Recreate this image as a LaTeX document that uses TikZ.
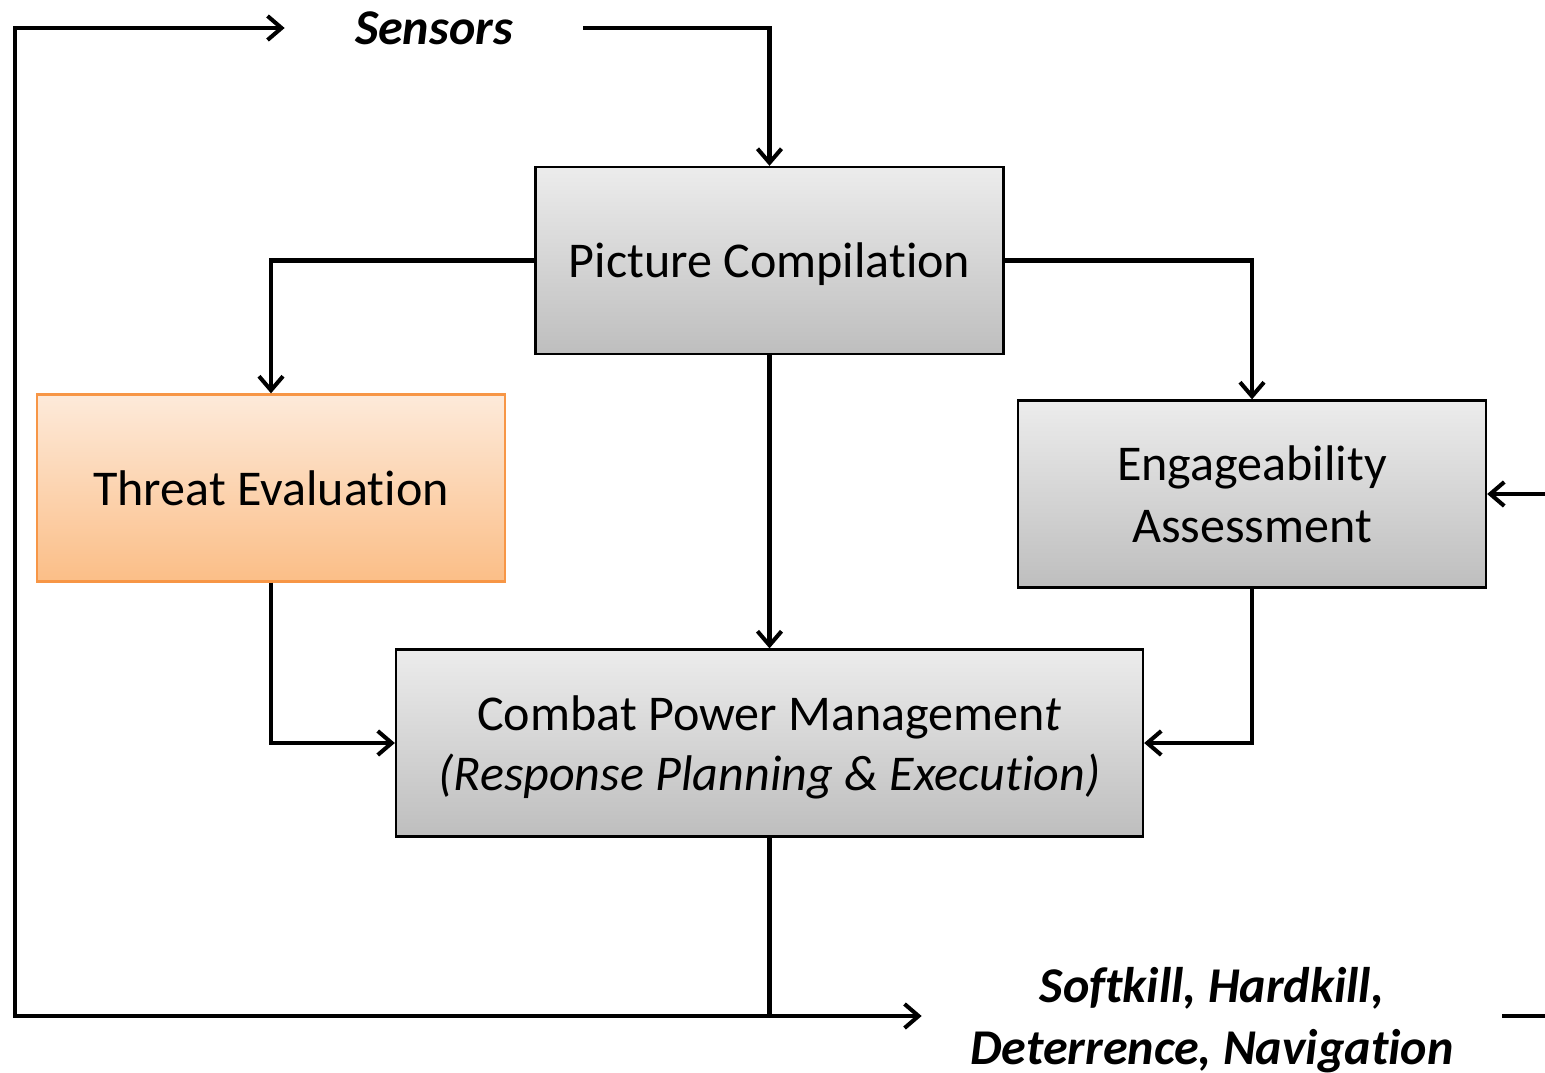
\documentclass[tikz,border=0pt]{standalone}
\usepackage{fontspec}
\setmainfont{Carlito}[Ligatures=NoCommon]
\usepackage{tikz}
\usetikzlibrary{arrows.meta,positioning}

\definecolor{boxtop}{RGB}{236,236,236}
\definecolor{boxbot}{RGB}{190,190,190}
\definecolor{orangetop}{RGB}{253,234,218}
\definecolor{orangebot}{RGB}{251,190,135}
\definecolor{orangeedge}{RGB}{247,150,70}

\begin{document}
\begin{tikzpicture}[
    % Define styles
    block/.style={rectangle, draw=black, line width=1.3pt, top color=boxtop, bottom color=boxbot, minimum width=9.36cm, minimum height=3.74cm, align=center, text depth=0pt, font=\fontsize{28.5}{35.5}\selectfont},
    threat/.style={block, draw=orangeedge, top color=orangetop, bottom color=orangebot},
    iolabel/.style={inner sep=0pt, align=center, text depth=0pt, font=\fontsize{28.5}{35.5}\selectfont\bfseries\itshape},
    arrow/.style={line width=2.3pt, -{Straight Barb[length=2.8mm, width=4.8mm, line width=2.3pt]}},
    line/.style={line width=2.3pt}
]
\useasboundingbox (0,0) rectangle (30.9,21.44);

% Main blocks
\node[block] (picture) at (15.39,16.23) {Picture Compilation};
\node[threat] (threat) at (5.42,11.68) {Threat Evaluation};
\node[block] (engage) at (25.04,11.56) {Engageability\\Assessment};
\node[block, minimum width=14.94cm, font=\fontsize{28.5}{34}\selectfont] (combat) at (15.39,6.58) {Combat Power Managemen\textit{t}\\\textit{(Response Planning \& Execution)}};

% Inputs and outputs
\node[iolabel, minimum width=5.96cm] (sensors) at (8.68,20.88) {Sensors};
\node[iolabel, minimum width=11.6cm] (effects) at (24.24,1.12) {Softkill, Hardkill,\\Deterrence, Navigation};

% Loop corners and free ends
\coordinate (looptl) at (0.3,20.88);
\coordinate (loopbl) at (0.3,1.12);
\coordinate (effend) at (30.9,1.12);
\coordinate (engin) at (30.9,11.56);

% Sensors into picture compilation
\draw[arrow] (sensors.east) -| (picture.north);

% Picture compilation to the three branches
\draw[arrow] (picture.west) -| (threat.north);
\draw[arrow] (picture.east) -| (engage.north);
\draw[arrow] (picture.south) -- (combat.north);

% Branches into combat power management
\draw[arrow] (threat.south) |- (combat.west);
\draw[arrow] (engage.south) |- (combat.east);
\draw[arrow] (engin) -- (engage.east);

% Output and feedback loop
\draw[arrow] (combat.south) |- (effects.west);
\draw[line] (effects.east) -- (effend);
\draw[arrow] (combat.south |- effects.west) -- (loopbl) -- (looptl) -- (sensors.west);

\end{tikzpicture}
\end{document}
